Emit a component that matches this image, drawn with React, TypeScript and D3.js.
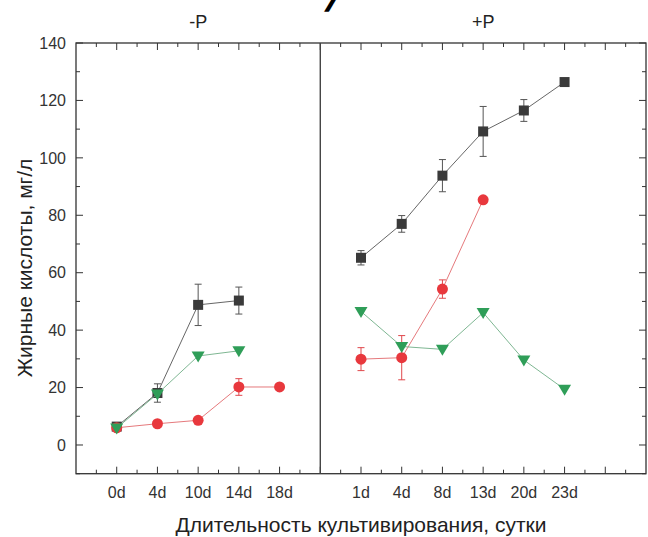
import React from "react";
import * as d3 from "d3";

// ---- data ----
const leftLabels = ["0d", "4d", "10d", "14d", "18d"];
const rightLabels = ["1d", "4d", "8d", "13d", "20d", "23d"];
const leftPos = [1, 2, 3, 4, 5];
const rightPos = [7, 8, 9, 10, 11, 12];

const blackMinusP = [6.4, 18.1, 48.8, 50.3];
const blackMinusPErr = [0, 3.2, 7.2, 4.7];
const redMinusP = [6.0, 7.4, 8.6, 20.2, 20.2];
const redMinusPErr = [0, 0, 0, 2.9, 0];
const greenMinusP = [5.9, 17.8, 31.0, 32.8];

const blackPlusP = [65.2, 77.0, 93.8, 109.2, 116.5, 126.4];
const blackPlusPErr = [2.5, 2.9, 5.6, 8.7, 3.8, 0];
const redPlusP = [29.9, 30.4, 54.3, 85.4];
const redPlusPErr = [4.0, 7.7, 3.2, 0];
const greenPlusP = [46.5, 34.3, 33.3, 46.1, 29.6, 19.4];

const yTicks = [0, 20, 40, 60, 80, 100, 120, 140];

const W = 648;
const H = 537;
const FONT = "'Liberation Sans', Arial, sans-serif";

const x = d3.scaleLinear().domain([0, 14]).range([76, 646]);
const y = d3.scaleLinear().domain([-10, 140]).range([473.7, 43]);

const BLACK = "#3a3a3a";
const RED = "#e8383d";
const GREEN = "#2f9e58";

type Pt = { px: number; v: number; e: number };

function mk(pos: number[], vals: number[], errs?: number[]): Pt[] {
  return vals.map((v, i) => ({ px: pos[i], v, e: errs ? errs[i] : 0 }));
}

const line = d3
  .line<Pt>()
  .x((d) => x(d.px))
  .y((d) => y(d.v));

function ErrorBars({ pts, color }: { pts: Pt[]; color: string }) {
  return (
    <g stroke={color} strokeWidth={1} fill="none">
      {pts
        .filter((d) => d.e > 0)
        .map((d, i) => {
          const cx = x(d.px);
          const y1 = y(d.v + d.e);
          const y2 = y(d.v - d.e);
          return (
            <g key={i}>
              <line x1={cx} x2={cx} y1={y1} y2={y2} />
              <line x1={cx - 3.5} x2={cx + 3.5} y1={y1} y2={y1} />
              <line x1={cx - 3.5} x2={cx + 3.5} y1={y2} y2={y2} />
            </g>
          );
        })}
    </g>
  );
}

function Squares({ pts }: { pts: Pt[] }) {
  const s = 10;
  return (
    <g fill={BLACK}>
      {pts.map((d, i) => (
        <rect key={i} x={x(d.px) - s / 2} y={y(d.v) - s / 2} width={s} height={s} />
      ))}
    </g>
  );
}

function Circles({ pts }: { pts: Pt[] }) {
  return (
    <g fill={RED}>
      {pts.map((d, i) => (
        <circle key={i} cx={x(d.px)} cy={y(d.v)} r={5.5} />
      ))}
    </g>
  );
}

function Triangles({ pts }: { pts: Pt[] }) {
  return (
    <g fill={GREEN}>
      {pts.map((d, i) => {
        const cx = x(d.px);
        const cy = y(d.v);
        return (
          <path
            key={i}
            d={`M${cx - 6.5},${cy - 4.5}L${cx + 6.5},${cy - 4.5}L${cx},${cy + 6.5}Z`}
          />
        );
      })}
    </g>
  );
}

function Series({
  groups,
  color,
  lineColor,
  kind,
}: {
  groups: Pt[][];
  color: string;
  lineColor: string;
  kind: "sq" | "ci" | "tr";
}) {
  return (
    <g>
      {groups.map((g, i) => (
        <path key={"l" + i} d={line(g) || ""} fill="none" stroke={lineColor} strokeWidth={0.9} />
      ))}
      {groups.map((g, i) => (
        <ErrorBars key={"e" + i} pts={g} color={color} />
      ))}
      {groups.map((g, i) =>
        kind === "sq" ? (
          <Squares key={"m" + i} pts={g} />
        ) : kind === "ci" ? (
          <Circles key={"m" + i} pts={g} />
        ) : (
          <Triangles key={"m" + i} pts={g} />
        )
      )}
    </g>
  );
}

export default function App() {
  const x0 = x(0);
  const x1 = x(14);
  const yTop = y(140);
  const yBot = y(-10);
  const majorX = d3.range(1, 14);
  const minorX = d3.range(0.5, 14, 1);
  const majorY = yTicks;
  const minorY = d3.range(-10, 140, 20);
  const axisColor = "#333";

  const black = [mk(leftPos, blackMinusP, blackMinusPErr), mk(rightPos, blackPlusP, blackPlusPErr)];
  const red = [mk(leftPos, redMinusP, redMinusPErr), mk(rightPos, redPlusP, redPlusPErr)];
  const green = [mk(leftPos, greenMinusP), mk(rightPos, greenPlusP)];

  return (
    <svg
      width={W}
      height={H}
      style={{ position: "absolute", left: 0, top: 0, background: "#fff" }}
      fontFamily={FONT}
    >
      <rect width={W} height={H} fill="#fff" />
      {/* cut-off stroke of a larger title above the picture */}
      <text transform="translate(324,11) skewX(-22)" fontSize={40} fontWeight="bold" fill="#000">
        /
      </text>

      {/* panel titles */}
      <text x={(x0 + x(6)) / 2} y={28} fontSize={18} textAnchor="middle" fill="#222">
        -P
      </text>
      <text x={(x(6) + x1) / 2} y={28} fontSize={18} textAnchor="middle" fill="#222">
        +P
      </text>

      {/* ticks */}
      <g stroke={axisColor} strokeWidth={1}>
        {majorX.map((p) => (
          <g key={"mx" + p}>
            <line x1={x(p)} x2={x(p)} y1={yBot} y2={yBot - 7} />
            <line x1={x(p)} x2={x(p)} y1={yTop} y2={yTop + 7} />
          </g>
        ))}
        {minorX.map((p) => (
          <g key={"nx" + p}>
            <line x1={x(p)} x2={x(p)} y1={yBot} y2={yBot - 4} />
            <line x1={x(p)} x2={x(p)} y1={yTop} y2={yTop + 4} />
          </g>
        ))}
        {majorY.map((v) => (
          <g key={"my" + v}>
            <line x1={x0} x2={x0 + 7} y1={y(v)} y2={y(v)} />
            <line x1={x1} x2={x1 - 7} y1={y(v)} y2={y(v)} />
          </g>
        ))}
        {minorY.map((v) => (
          <g key={"ny" + v}>
            <line x1={x0} x2={x0 + 4} y1={y(v)} y2={y(v)} />
            <line x1={x1} x2={x1 - 4} y1={y(v)} y2={y(v)} />
          </g>
        ))}
      </g>

      {/* frame */}
      <rect x={x0} y={yTop} width={x1 - x0} height={yBot - yTop} fill="none" stroke={axisColor} strokeWidth={1.3} />
      <line x1={x(6)} x2={x(6)} y1={yTop} y2={yBot} stroke="#444" strokeWidth={1.4} />

      {/* tick labels */}
      <g fontSize={16} fill="#333">
        {yTicks.map((v) => (
          <text key={"yl" + v} x={66} y={y(v)} dy="0.36em" textAnchor="end">
            {v}
          </text>
        ))}
        {leftLabels.map((l, i) => (
          <text key={"xl" + i} x={x(leftPos[i])} y={498} textAnchor="middle">
            {l}
          </text>
        ))}
        {rightLabels.map((l, i) => (
          <text key={"xr" + i} x={x(rightPos[i])} y={498} textAnchor="middle">
            {l}
          </text>
        ))}
      </g>

      {/* series */}
      <Series groups={black} color="#555" lineColor="#555" kind="sq" />
      <Series groups={red} color="#e0484c" lineColor="#e26a6d" kind="ci" />
      <Series groups={green} color={GREEN} lineColor="#6fae86" kind="tr" />

      {/* axis titles */}
      <text x={361} y={532} fontSize={21} textAnchor="middle" fill="#222">
        Длительность культивирования, сутки
      </text>
      <text
        transform={`translate(32,268) rotate(-90)`}
        fontSize={21}
        textAnchor="middle"
        fill="#222"
      >
        Жирные кислоты, мг/л
      </text>
    </svg>
  );
}
